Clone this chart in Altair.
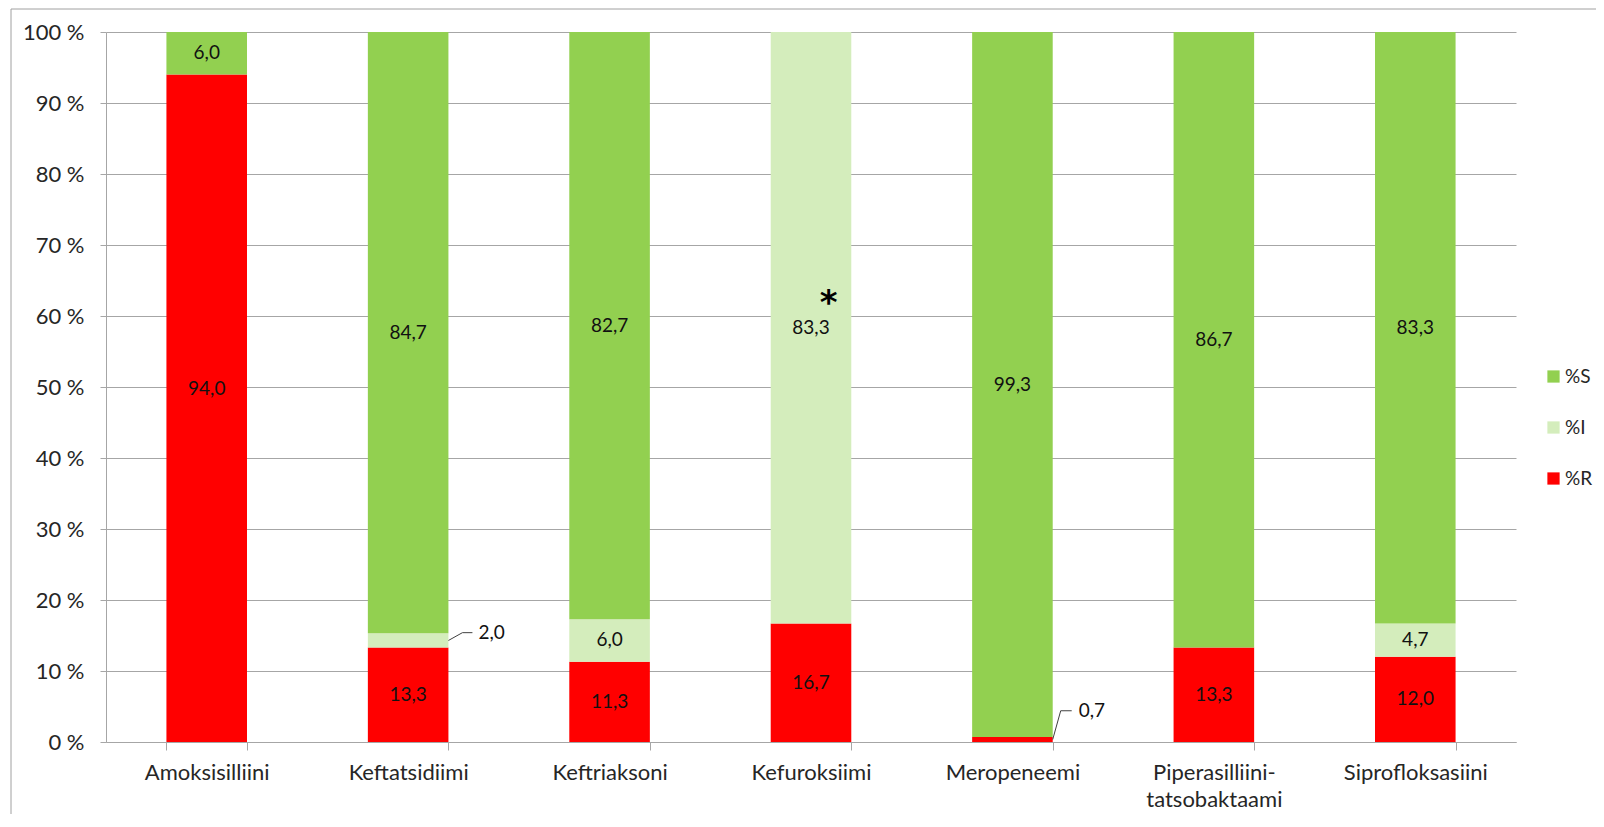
import altair as alt
import pandas as pd

# ---- data ----
categories = ["Amoksisilliini", "Keftatsidiimi", "Keftriaksoni", "Kefuroksiimi",
              "Meropeneemi", "Piperasilliini-tatsobaktaami", "Siprofloksasiini"]
series = ["%S", "%I", "%R"]
pct_R = [94.0, 13.3, 11.3, 16.7, 0.7, 13.3, 12.0]
pct_I = [0.0, 2.0, 6.0, 83.3, 0.0, 0.0, 4.7]
pct_S = [6.0, 84.7, 82.7, 0.0, 99.3, 86.7, 83.3]
y_ticks = [0, 10, 20, 30, 40, 50, 60, 70, 80, 90, 100]

# ---- annotation placement (label height in data units, leader offsets in px) ----
outside_labels = {("Keftatsidiimi", "%I"): (15.4, 14, 24, 30),
                  ("Meropeneemi", "%R"): (4.4, 8, 19, 26)}
label_nudge = {("Amoksisilliini", "%R"): 2.7}
asterisk_cat = "Kefuroksiimi"
asterisk_y = 61.7

colors = ["#92D050", "#D4EDBC", "#FF0000"]
FONT = "Lato"
FS = 22      # axis text
LFS = 19     # legend text
DFS = 19     # data labels
TXT = "#262626"
GRID = "#A6A6A6"

rows = []
for i, c in enumerate(categories):
    base = 0.0
    for s, vals, order in (("%R", pct_R, 0), ("%I", pct_I, 1), ("%S", pct_S, 2)):
        v = vals[i]
        key = (c, s)
        mid = base + v / 2
        ly = outside_labels[key][0] if key in outside_labels else mid + label_nudge.get(key, 0.0)
        rows.append(dict(cat=c, series=s, value=v, order=order, start=base,
                         end=base + v, mid=mid, label_y=ly,
                         outside=key in outside_labels,
                         label=f"{v:.1f}".replace(".", ",")))
        base += v
df = pd.DataFrame(rows)
inside = df[(df.value > 0) & (~df.outside)]

xscale = alt.Scale(domain=categories, paddingInner=0.6, paddingOuter=0.3)
xs = dict(sort=categories, scale=xscale)

bars = alt.Chart(df).mark_bar().encode(
    x=alt.X("cat:N", title=None, sort=categories, scale=xscale,
            axis=alt.Axis(labelAngle=0, tickBand="extent", tickSize=8, labelPadding=12,
                          labelExpr="split(replace(datum.label, '-', '-|'), '|')",
                          labelLineHeight=27, domainColor=GRID, tickColor=GRID,
                          labelFont=FONT, labelFontSize=FS, labelColor=TXT, grid=False)),
    y=alt.Y("start:Q", title=None,
            scale=alt.Scale(domain=[0, 100], nice=False),
            axis=alt.Axis(values=y_ticks, labelExpr="datum.value + ' %'", tickSize=6,
                          labelPadding=16, grid=True, gridColor=GRID, domainColor=GRID,
                          tickColor=GRID, labelFont=FONT, labelFontSize=FS, labelColor=TXT)),
    y2="end:Q",
    color=alt.Color("series:N", scale=alt.Scale(domain=series, range=colors),
                    legend=alt.Legend(title=None, orient="none", legendX=1438, legendY=335,
                                      symbolType="square", symbolSize=150, symbolStrokeWidth=0,
                                      labelFont=FONT, labelFontSize=LFS, labelColor=TXT,
                                      rowPadding=31, labelOffset=2, labelLimit=60)),
)

texts = alt.Chart(inside).mark_text(font=FONT, fontSize=DFS, color="#111111",
                                     baseline="middle").encode(
    x=alt.X("cat:N", **xs), y="label_y:Q", text="label:N")

layers = [bars, texts]
for key, (ly, o1, o2, o3) in outside_labels.items():
    sub = df[(df.cat == key[0]) & (df.series == key[1])]
    layers.append(alt.Chart(sub).mark_rule(color="#404040", strokeWidth=1, x2Offset=o1).encode(
        x=alt.X("cat:N", bandPosition=1, **xs), x2=alt.X2("cat", bandPosition=1),
        y="mid:Q", y2="label_y:Q"))
    layers.append(alt.Chart(sub).mark_rule(color="#404040", strokeWidth=1,
                                           xOffset=o1, x2Offset=o2).encode(
        x=alt.X("cat:N", bandPosition=1, **xs), x2=alt.X2("cat", bandPosition=1),
        y="label_y:Q"))
    layers.append(alt.Chart(sub).mark_text(font=FONT, fontSize=DFS, color="#111111",
                                           align="left", baseline="middle", dx=o3).encode(
        x=alt.X("cat:N", bandPosition=1, **xs), y="label_y:Q", text="label:N"))

ast = alt.Chart(pd.DataFrame({"cat": [asterisk_cat], "y": [asterisk_y], "t": ["*"]})).mark_text(
    font="DejaVu Sans", fontSize=34, fontWeight="bold", color="#000000", baseline="middle"
).encode(x=alt.X("cat:N", bandPosition=0.72, **xs), y="y:Q", text="t:N")
layers.append(ast)

frame_top = alt.Chart(pd.DataFrame({"a": [0]})).mark_rule(color="#A0A0A0").encode(
    x=alt.value(-95), x2=alt.value(1490), y=alt.value(-23))
frame_left = alt.Chart(pd.DataFrame({"a": [0]})).mark_rule(color="#A0A0A0").encode(
    x=alt.value(-95), y=alt.value(-23), y2=alt.value(782))
layers += [frame_top, frame_left]

chart = alt.layer(*layers).properties(
    width=1410, height=710,
    autosize=alt.AutoSizeParams(type="none"),
    padding={"left": 98, "top": 24, "right": 80, "bottom": 72},
).configure_view(stroke=None)

chart.save("out.html", embed_options={"renderer": "svg", "actions": False})
